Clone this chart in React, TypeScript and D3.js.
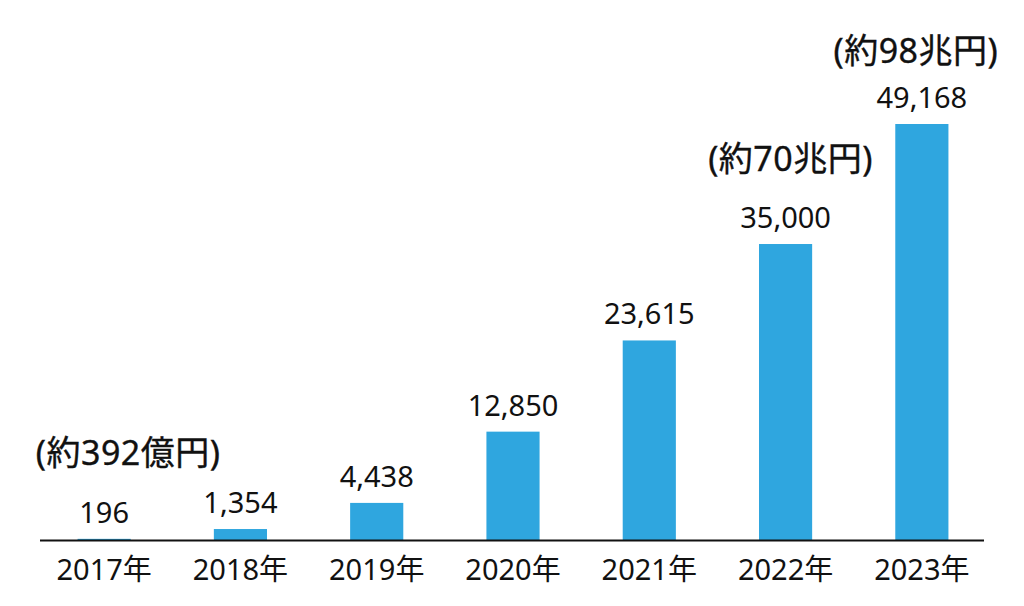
import React from 'react';
import * as d3 from 'd3';

const years = ['2017年', '2018年', '2019年', '2020年', '2021年', '2022年', '2023年'];
const values = [196, 1354, 4438, 12850, 23615, 35000, 49168];
const notes = ['(約392億円)', '', '', '', '', '(約70兆円)', '(約98兆円)'];

const W = 1024;
const H = 606;
const baseY = 540.5;
const font = '"Noto Sans", "Noto Sans CJK JP", sans-serif';
const barColor = '#2fa6df';

// label nudges for the annotations (px)
const noteShift: Record<number, [number, number]> = {
    0: [24, -58],
    5: [5, -57],
    6: [-6, -45],
};

const App: React.FC = () => {
    const x = d3
        .scaleBand<string>()
        .domain(years)
        .range([36, 990])
        .paddingInner(0.61)
        .paddingOuter(0.305);

    const y = d3.scaleLinear().domain([0, 49168]).range([baseY, 124]);

    const fmt = d3.format(',');

    return (
        <svg
            width={W}
            height={H}
            style={{ position: 'absolute', left: 0, top: 0, background: '#fff' }}
            fontFamily={font}
        >
            {years.map((yr, i) => {
                const cx = (x(yr) ?? 0) + x.bandwidth() / 2;
                const top = y(values[i]);
                const shift = noteShift[i] ?? [0, -50];
                return (
                    <g key={yr}>
                        <rect
                            x={x(yr)}
                            y={top}
                            width={x.bandwidth()}
                            height={baseY - top}
                            fill={barColor}
                        />
                        <text
                            x={cx}
                            y={top - 16}
                            textAnchor="middle"
                            fontSize={29}
                            fill="#111"
                        >
                            {fmt(values[i])}
                        </text>
                        {notes[i] && (
                            <text
                                x={cx + shift[0]}
                                y={top - 16 + shift[1]}
                                textAnchor="middle"
                                fontSize={34}
                                letterSpacing={0.5}
                                fill="#111"
                                stroke="#111"
                                strokeWidth={0.35}
                            >
                                {notes[i]}
                            </text>
                        )}
                        <text
                            x={cx}
                            y={580}
                            textAnchor="middle"
                            fontSize={29}
                            fill="#111"
                        >
                            {yr}
                        </text>
                    </g>
                );
            })}
            <line x1={40} x2={984} y1={baseY} y2={baseY} stroke="#111" strokeWidth={2} />
        </svg>
    );
};

export default App;
